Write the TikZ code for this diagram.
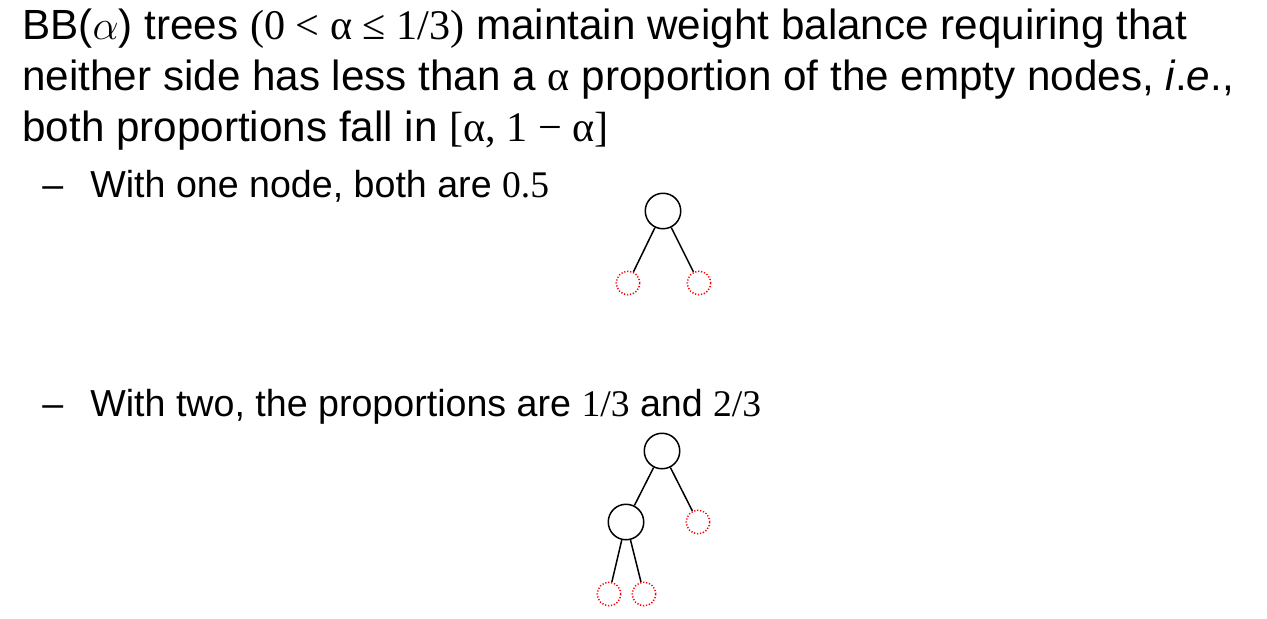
\documentclass[tikz,border=0pt]{standalone}
\usepackage{fontspec}
\setmainfont{Liberation Sans}
\newfontfamily\tnr{Liberation Serif}
\usetikzlibrary{positioning}
\tikzset{
    bodytext/.style={anchor=base west,inner sep=0pt,font=\fontsize{21.1}{25}\selectfont},
    subtext/.style={anchor=base west,inner sep=0pt,font=\fontsize{18.8}{22}\selectfont},
    fullnode/.style={circle,draw=black,line width=0.75pt,minimum size=17.75pt,inner sep=0pt},
    emptynode/.style={circle,draw=red,line width=0.75pt,dash pattern=on 0.6pt off 0.9pt,minimum size=11.75pt,inner sep=0pt},
    branch/.style={line width=0.75pt}
}

\begin{document}
\begin{tikzpicture}[x=0.5pt,y=-0.5pt]
		\useasboundingbox (0,0) rectangle (1267,618);
		% top bullet
		\node[bodytext] (line1) at (22,39.5) {BB($\alpha$) trees {\tnr(0 < α ≤ 1/3)} maintain weight balance requiring that};
		\node[bodytext] (line2) at (22,90.5) {neither side has less than a {\tnr α} proportion of the empty nodes, \textit{i}.\textit{e}.,};
		\node[bodytext] (line3) at (22,141) {both proportions fall in {\tnr[α, 1 − α]}};
		% one node
		\node[subtext] (dash1) at (42,197) {–};
		\node[subtext] (line4) at (90,197) {With one node, both are {\tnr 0.5}};
		\node[fullnode] (root1) at (663,211) {};
		\node[emptynode] (lo1) at (628,283) {};
		\node[emptynode] (hi1) at (699,283) {};
		\draw[branch] (root1) -- (lo1);
		\draw[branch] (root1) -- (hi1);
		% two nodes
		\node[subtext] (dash2) at (42,416) {–};
		\node[subtext] (line5) at (90,416) {With two, the proportions are {\tnr 1/3} and {\tnr 2/3}};
		\node[fullnode] (root2) at (662,451) {};
		\node[fullnode] (left2) at (626,522) {};
		\node[emptynode] (hi2) at (698,522) {};
		\node[emptynode] (lo2) at (609,594) {};
		\node[emptynode] (mid2) at (644,594) {};
		\draw[branch] (root2) -- (left2);
		\draw[branch] (root2) -- (hi2);
		\draw[branch] (left2) -- (lo2);
		\draw[branch] (left2) -- (mid2);
\end{tikzpicture}
\end{document}
